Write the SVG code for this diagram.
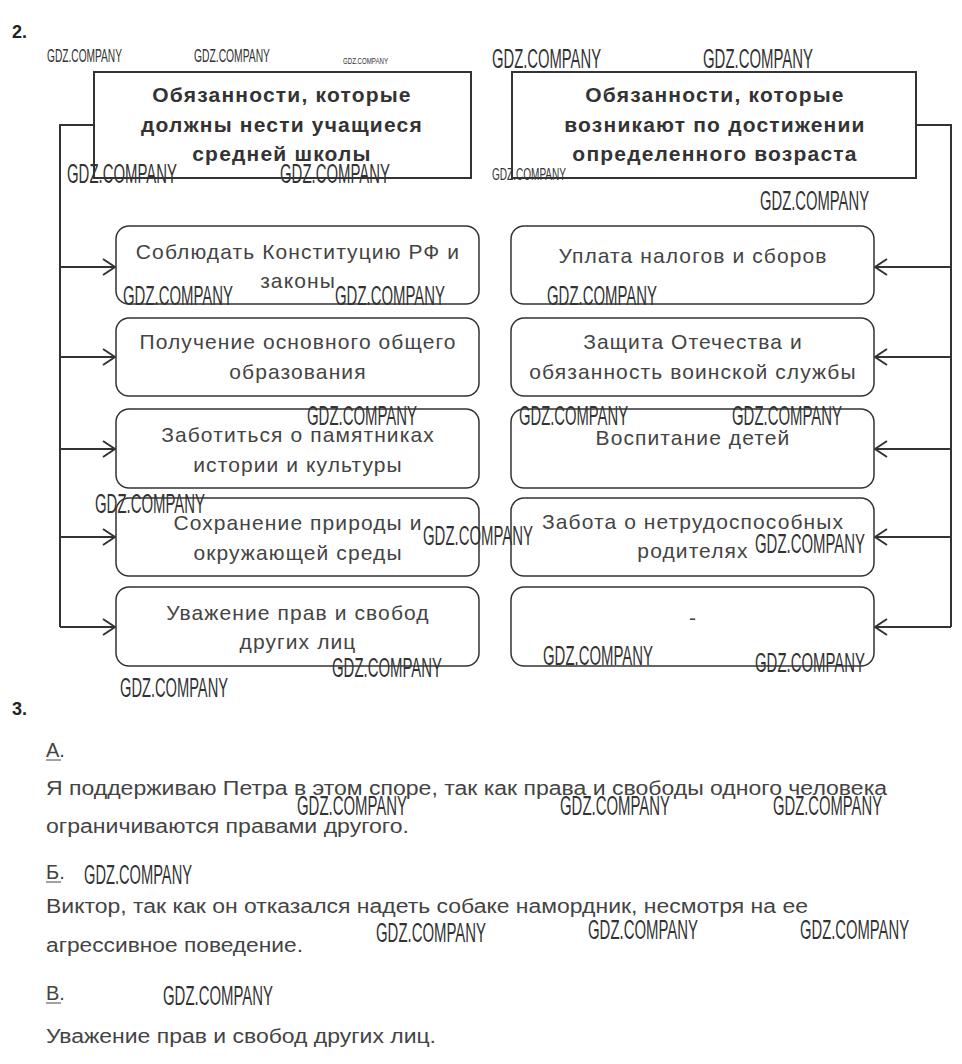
<svg xmlns="http://www.w3.org/2000/svg" width="962" height="1064" viewBox="0 0 962 1064">
<defs>
<style>
.hdr{fill:#fff;stroke:#333;stroke-width:2}
.box{fill:#fff;stroke:#333;stroke-width:1.5}
.ht{font-family:"Liberation Sans",Arial,sans-serif;font-weight:bold;font-size:21px;fill:#333;text-anchor:middle;letter-spacing:1.2px}
.bt{font-family:"Liberation Sans",Arial,sans-serif;font-size:21px;fill:#444;text-anchor:middle;letter-spacing:1.1px}
.pt{font-family:"Liberation Sans",Arial,sans-serif;font-size:20px;fill:#444}
.num{font-family:"Liberation Sans",Arial,sans-serif;font-weight:bold;font-size:18px;fill:#222}
.wm{font-family:"Liberation Sans",Arial,sans-serif;font-size:27px;fill:#333}
.wms{font-family:"Liberation Sans",Arial,sans-serif;font-size:18px;fill:#333}
.ln{fill:none;stroke:#333;stroke-width:2}
.ul{stroke:#444;stroke-width:1}
</style>
<marker id="ah" viewBox="0 0 14 18" refX="13" refY="9" markerWidth="14" markerHeight="18" markerUnits="userSpaceOnUse" orient="auto">
<path d="M1,1 L13,9 L1,17" fill="none" stroke="#333" stroke-width="2"/>
</marker>
</defs>
<rect width="962" height="1064" fill="#fff"/>

<text class="num" x="12" y="38">2.</text>

<g id="connectors">
<path class="ln" d="M94,125 H60 V627"/>
<path class="ln" d="M60,267 H115" marker-end="url(#ah)"/>
<path class="ln" d="M60,357 H115" marker-end="url(#ah)"/>
<path class="ln" d="M60,449 H115" marker-end="url(#ah)"/>
<path class="ln" d="M60,537 H115" marker-end="url(#ah)"/>
<path class="ln" d="M60,627 H115" marker-end="url(#ah)"/>
<path class="ln" d="M916,125 H951 V627"/>
<path class="ln" d="M951,267 H875" marker-end="url(#ah)"/>
<path class="ln" d="M951,357 H875" marker-end="url(#ah)"/>
<path class="ln" d="M951,449 H875" marker-end="url(#ah)"/>
<path class="ln" d="M951,537 H875" marker-end="url(#ah)"/>
<path class="ln" d="M951,627 H875" marker-end="url(#ah)"/>
</g>

<g id="header-left">
<rect class="hdr" x="94" y="72" width="377" height="106"/>
<text class="ht" x="282" y="102">Обязанности, которые</text>
<text class="ht" x="282" y="132">должны нести учащиеся</text>
<text class="ht" x="282" y="161">средней школы</text>
</g>
<g id="header-right">
<rect class="hdr" x="512" y="72" width="404" height="106"/>
<text class="ht" x="715" y="102">Обязанности, которые</text>
<text class="ht" x="715" y="132">возникают по достижении</text>
<text class="ht" x="715" y="161">определенного возраста</text>
</g>

<g id="l1"><rect class="box" x="116" y="226" width="363" height="78" rx="13"/>
<text class="bt" x="298" y="259">Соблюдать Конституцию РФ и</text>
<text class="bt" x="298" y="288">законы</text></g>
<g id="l2"><rect class="box" x="116" y="318" width="363" height="78" rx="13"/>
<text class="bt" x="298" y="349">Получение основного общего</text>
<text class="bt" x="298" y="379">образования</text></g>
<g id="l3"><rect class="box" x="116" y="409" width="363" height="79" rx="13"/>
<text class="bt" x="298" y="442">Заботиться о памятниках</text>
<text class="bt" x="298" y="472">истории и культуры</text></g>
<g id="l4"><rect class="box" x="116" y="498" width="363" height="78" rx="13"/>
<text class="bt" x="298" y="530">Сохранение природы и</text>
<text class="bt" x="298" y="560">окружающей среды</text></g>
<g id="l5"><rect class="box" x="116" y="587" width="363" height="79" rx="13"/>
<text class="bt" x="298" y="620">Уважение прав и свобод</text>
<text class="bt" x="298" y="649">других лиц</text></g>

<g id="r1"><rect class="box" x="511" y="226" width="363" height="78" rx="13"/>
<text class="bt" x="693" y="263">Уплата налогов и сборов</text></g>
<g id="r2"><rect class="box" x="511" y="318" width="363" height="78" rx="13"/>
<text class="bt" x="693" y="349">Защита Отечества и</text>
<text class="bt" x="693" y="379">обязанность воинской службы</text></g>
<g id="r3"><rect class="box" x="511" y="409" width="363" height="79" rx="13"/>
<text class="bt" x="693" y="445">Воспитание детей</text></g>
<g id="r4"><rect class="box" x="511" y="498" width="363" height="78" rx="13"/>
<text class="bt" x="693" y="529">Забота о нетрудоспособных</text>
<text class="bt" x="693" y="558">родителях</text></g>
<g id="r5"><rect class="box" x="511" y="587" width="363" height="79" rx="13"/>
<text class="bt" x="693" y="625">-</text></g>

<g id="section3">
<text class="num" x="12" y="715">3.</text>
<text class="pt" x="46" y="757">А.</text>
<line class="ul" x1="46" y1="760" x2="61" y2="760"/>
<text class="pt" x="46" y="795" textLength="841" lengthAdjust="spacingAndGlyphs">Я поддерживаю Петра в этом споре, так как права и свободы одного человека</text>
<text class="pt" x="46" y="833" textLength="363" lengthAdjust="spacingAndGlyphs">ограничиваются правами другого.</text>
<text class="pt" x="46" y="879">Б.</text>
<line class="ul" x1="46" y1="882" x2="61" y2="882"/>
<text class="pt" x="46" y="913" textLength="762" lengthAdjust="spacingAndGlyphs">Виктор, так как он отказался надеть собаке намордник, несмотря на ее</text>
<text class="pt" x="46" y="952" textLength="257" lengthAdjust="spacingAndGlyphs">агрессивное поведение.</text>
<text class="pt" x="46" y="1000">В.</text>
<line class="ul" x1="46" y1="1003" x2="61" y2="1003"/>
<text class="pt" x="46" y="1043" textLength="390" lengthAdjust="spacingAndGlyphs">Уважение прав и свобод других лиц.</text>
</g>

<g id="watermarks">
<text class="wms" x="47" y="62" textLength="75" lengthAdjust="spacingAndGlyphs">GDZ.COMPANY</text>
<text class="wms" x="194" y="62" textLength="76" lengthAdjust="spacingAndGlyphs">GDZ.COMPANY</text>
<text class="wms" x="343" y="64" style="font-size:9px" textLength="45" lengthAdjust="spacingAndGlyphs">GDZ.COMPANY</text>
<text class="wm" x="492" y="68" textLength="109" lengthAdjust="spacingAndGlyphs">GDZ.COMPANY</text>
<text class="wm" x="703" y="68" textLength="110" lengthAdjust="spacingAndGlyphs">GDZ.COMPANY</text>
<text class="wm" x="67" y="183" textLength="110" lengthAdjust="spacingAndGlyphs">GDZ.COMPANY</text>
<text class="wm" x="280" y="183" textLength="110" lengthAdjust="spacingAndGlyphs">GDZ.COMPANY</text>
<text class="wms" x="492" y="180" style="font-size:17px" textLength="74" lengthAdjust="spacingAndGlyphs">GDZ.COMPANY</text>
<text class="wm" x="760" y="210" textLength="109" lengthAdjust="spacingAndGlyphs">GDZ.COMPANY</text>
<text class="wm" x="123" y="305" textLength="110" lengthAdjust="spacingAndGlyphs">GDZ.COMPANY</text>
<text class="wm" x="335" y="305" textLength="110" lengthAdjust="spacingAndGlyphs">GDZ.COMPANY</text>
<text class="wm" x="547" y="305" textLength="110" lengthAdjust="spacingAndGlyphs">GDZ.COMPANY</text>
<text class="wm" x="307" y="425" textLength="110" lengthAdjust="spacingAndGlyphs">GDZ.COMPANY</text>
<text class="wm" x="519" y="425" textLength="109" lengthAdjust="spacingAndGlyphs">GDZ.COMPANY</text>
<text class="wm" x="732" y="425" textLength="110" lengthAdjust="spacingAndGlyphs">GDZ.COMPANY</text>
<text class="wm" x="95" y="513" textLength="110" lengthAdjust="spacingAndGlyphs">GDZ.COMPANY</text>
<text class="wm" x="423" y="545" textLength="110" lengthAdjust="spacingAndGlyphs">GDZ.COMPANY</text>
<text class="wm" x="755" y="553" textLength="110" lengthAdjust="spacingAndGlyphs">GDZ.COMPANY</text>
<text class="wm" x="332" y="677" textLength="110" lengthAdjust="spacingAndGlyphs">GDZ.COMPANY</text>
<text class="wm" x="120" y="697" textLength="108" lengthAdjust="spacingAndGlyphs">GDZ.COMPANY</text>
<text class="wm" x="543" y="665" textLength="110" lengthAdjust="spacingAndGlyphs">GDZ.COMPANY</text>
<text class="wm" x="755" y="672" textLength="110" lengthAdjust="spacingAndGlyphs">GDZ.COMPANY</text>
<text class="wm" x="297" y="815" textLength="110" lengthAdjust="spacingAndGlyphs">GDZ.COMPANY</text>
<text class="wm" x="560" y="815" textLength="110" lengthAdjust="spacingAndGlyphs">GDZ.COMPANY</text>
<text class="wm" x="773" y="815" textLength="109" lengthAdjust="spacingAndGlyphs">GDZ.COMPANY</text>
<text class="wm" x="84" y="884" textLength="108" lengthAdjust="spacingAndGlyphs">GDZ.COMPANY</text>
<text class="wm" x="376" y="942" textLength="110" lengthAdjust="spacingAndGlyphs">GDZ.COMPANY</text>
<text class="wm" x="588" y="939" textLength="110" lengthAdjust="spacingAndGlyphs">GDZ.COMPANY</text>
<text class="wm" x="800" y="939" textLength="109" lengthAdjust="spacingAndGlyphs">GDZ.COMPANY</text>
<text class="wm" x="163" y="1005" textLength="110" lengthAdjust="spacingAndGlyphs">GDZ.COMPANY</text>
</g>
</svg>
